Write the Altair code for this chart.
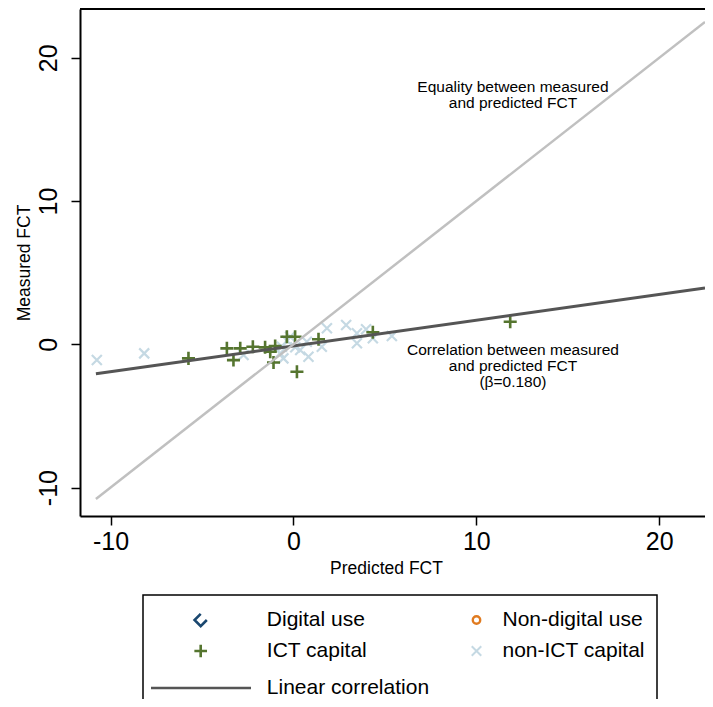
import altair as alt
import pandas as pd

FONT = "Liberation Sans"

# ---------------- data ----------------
ict_x = [-5.74, -3.64, -3.28, -2.91, -2.22, -1.55, -1.27, -1.00, -1.09, -0.36, 0.09, 0.19, 1.37, 4.34, 11.85]
ict_y = [-0.98, -0.28, -1.10, -0.28, -0.17, -0.21, -0.52, -0.12, -1.27, 0.53, 0.53, -1.91, 0.35, 0.84, 1.58]

nonict_x = [-10.75, -8.16, -2.73, -0.73, -0.63, -0.35, -0.18, 0.10, 0.37, 0.73,
            -0.55, 0.82, 1.55, 1.83, 2.88, 3.47, 3.47, 3.97, 4.34, 5.38]
nonict_y = [-1.10, -0.63, -0.75, -0.63, -0.17, 0.25, 0.53, -0.20, -0.40, 0.18,
            -0.98, -0.87, -0.17, 1.12, 1.35, 0.77, 0.07, 1.05, 0.42, 0.58]

fit_x = [-10.8, 22.5]
fit_y = [-2.06, 3.93]
eq_x = [-10.8, 22.5]
eq_y = [-10.8, 22.5]

x_ticks = [-10, 0, 10, 20]
y_ticks = [-10, 0, 10, 20]
x_title = "Predicted FCT"
y_title = "Measured FCT"
eq_label = ["Equality between measured", "and predicted FCT"]
corr_label = ["Correlation between measured", "and predicted FCT", "(β=0.180)"]
legend_sym_labels = ["Digital use", "Non-digital use", "ICT capital", "non-ICT capital"]
legend_line_label = "Linear correlation"

# ---------------- layout / style constants ----------------
X_DOM = [-11.67, 22.5]
Y_DOM = [-11.98, 23.40]
W, H = 625, 507
EQ_POS = (12.0, 17.98)      # first line anchor
CORR_POS = (12.0, -0.40)    # first line anchor

NAVY = "#1a476f"
ORANGE = "#e07b20"
GREEN = "#55752f"
LTBLUE = "#c5d9e3"
FIT_COL = "#555555"
EQ_COL = "#c0c0c0"

CHEVRON = "M0,-1L-1,0L0,1L1,0"
PLUS = "M-1,0L1,0M0,-1L0,1"
CROSS = "M-1,-1L1,1M-1,1L1,-1"

# legend layout (pixels relative to plot origin)
LEG_SYM_X = [120.7, 396.5]
LEG_TXT_X = [186.8, 422.5]
LEG_ROW_Y = [611, 642, 679]
LEG_LINE_X = [71, 171]
LEG_BOX = [63, 577, 586, 720]

# ---------------- main plot ----------------
xs = alt.Scale(domain=X_DOM, nice=False, zero=False)
ys = alt.Scale(domain=Y_DOM, nice=False, zero=False)
xax = alt.Axis(values=x_ticks, title=x_title, orient="bottom", grid=False,
               labelExpr="'' + datum.value",
               labelFontSize=25, labelPadding=4, titleX=306, titleY=57,
               titleBaseline="alphabetic", titleAnchor="start", titleAlign="center")
yax = alt.Axis(values=y_ticks, title=y_title, orient="left", grid=False,
               labelExpr="'' + datum.value",
               labelFontSize=25, labelAngle=270, labelAlign="center", labelBaseline="bottom",
               labelPadding=10, titleX=-51, titleBaseline="alphabetic")


def X(field="x"):
    return alt.X(f"{field}:Q", scale=xs, axis=xax)


def Y(field="y"):
    return alt.Y(f"{field}:Q", scale=ys, axis=yax)


nonict = alt.Chart(pd.DataFrame({"x": nonict_x, "y": nonict_y})).mark_point(
    shape=CROSS, filled=False, size=100, strokeWidth=2.2, color=LTBLUE, opacity=1
).encode(x=X(), y=Y())

ict = alt.Chart(pd.DataFrame({"x": ict_x, "y": ict_y})).mark_point(
    shape=PLUS, filled=False, size=170, strokeWidth=2.6, color=GREEN, opacity=1
).encode(x=X(), y=Y())

fit = alt.Chart(pd.DataFrame({"x": fit_x, "y": fit_y})).mark_line(
    color=FIT_COL, strokeWidth=3
).encode(x=X(), y=Y())

eq = alt.Chart(pd.DataFrame({"x": eq_x, "y": eq_y})).mark_line(
    color=EQ_COL, strokeWidth=2.5
).encode(x=X(), y=Y())

eq_text = alt.Chart(pd.DataFrame({"x": [EQ_POS[0]], "y": [EQ_POS[1]], "t": ["\n".join(eq_label)]})).mark_text(
    font=FONT, fontSize=15.5, lineHeight=16, align="center", baseline="middle", color="black",
    lineBreak="\n"
).encode(x=X(), y=Y(), text="t:N")

corr_text = alt.Chart(pd.DataFrame({"x": [CORR_POS[0]], "y": [CORR_POS[1]], "t": ["\n".join(corr_label)]})).mark_text(
    font=FONT, fontSize=15.5, lineHeight=16, align="center", baseline="middle", color="black",
    lineBreak="\n"
).encode(x=X(), y=Y(), text="t:N")

frame_top = alt.Chart(pd.DataFrame({"x": [X_DOM[0]], "x2": [X_DOM[1]], "y": [Y_DOM[1]]})).mark_rule(
    color="black", strokeWidth=2
).encode(x=X(), x2="x2:Q", y=Y())

main = alt.layer(nonict, ict, fit, eq, eq_text, corr_text, frame_top)

# ---------------- legend (own pixel scales) ----------------
lxs = alt.Scale(domain=[0, W], range=[0, W], nice=False, zero=False)
lys = alt.Scale(domain=[0, H], range=[0, H], nice=False, zero=False)


def LX(f):
    return alt.X(f"{f}:Q", scale=lxs, axis=None)


def LY(f):
    return alt.Y(f"{f}:Q", scale=lys, axis=None)


sym_cols = [0, 1, 0, 1]
sym_rows = [0, 0, 1, 1]
sym_shapes = [CHEVRON, "circle", PLUS, CROSS]
sym_colors = [NAVY, ORANGE, GREEN, LTBLUE]
sym_sizes = [150, 55, 160, 90]
sym_widths = [2.6, 2.4, 2.6, 2.0]

legend_layers = []
box = alt.Chart(pd.DataFrame({"x": [LEG_BOX[0]], "x2": [LEG_BOX[1]], "y": [LEG_BOX[2]], "y2": [LEG_BOX[3]]})).mark_rect(
    fillOpacity=0, stroke="black", strokeWidth=1.5
).encode(x=LX("x"), x2="x2:Q", y=LY("y"), y2="y2:Q")
legend_layers.append(box)

for lab, c, r, shp, col, sz, sw in zip(legend_sym_labels, sym_cols, sym_rows, sym_shapes, sym_colors, sym_sizes, sym_widths):
    df = pd.DataFrame({"x": [LEG_SYM_X[c]], "y": [LEG_ROW_Y[r]], "tx": [LEG_TXT_X[c]], "t": [lab]})
    legend_layers.append(
        alt.Chart(df).mark_point(shape=shp, filled=False, size=sz, strokeWidth=sw, color=col, opacity=1)
        .encode(x=LX("x"), y=LY("y"))
    )
    legend_layers.append(
        alt.Chart(df).mark_text(font=FONT, fontSize=21, align="left", baseline="middle", color="black")
        .encode(x=LX("tx"), y=LY("y"), text="t:N")
    )

line_df = pd.DataFrame({"x": [LEG_LINE_X[0]], "x2": [LEG_LINE_X[1]], "y": [LEG_ROW_Y[2]],
                        "tx": [LEG_TXT_X[0]], "t": [legend_line_label]})
legend_layers.append(
    alt.Chart(line_df).mark_rule(color=FIT_COL, strokeWidth=2.5).encode(x=LX("x"), x2="x2:Q", y=LY("y"))
)
legend_layers.append(
    alt.Chart(line_df).mark_text(font=FONT, fontSize=21, align="left", baseline="middle", color="black")
    .encode(x=LX("tx"), y=LY("y"), text="t:N")
)

legend = alt.layer(*legend_layers)

chart = alt.layer(main, legend).resolve_scale(x="independent", y="independent").properties(
    width=W, height=H,
    autosize=alt.AutoSizeParams(type="none"),
    padding={"left": 72, "top": 1, "right": 0, "bottom": 183},
    background="white",
).configure_view(stroke=None).configure_axis(
    domainColor="black", domainWidth=2, tickColor="black", tickWidth=1.5, tickSize=9,
    labelFont=FONT, labelColor="black", titleFont=FONT, titleFontSize=17.5,
    titleFontWeight="normal", titleColor="black"
)

chart.save("out.html", embed_options={"renderer": "svg", "actions": False})
